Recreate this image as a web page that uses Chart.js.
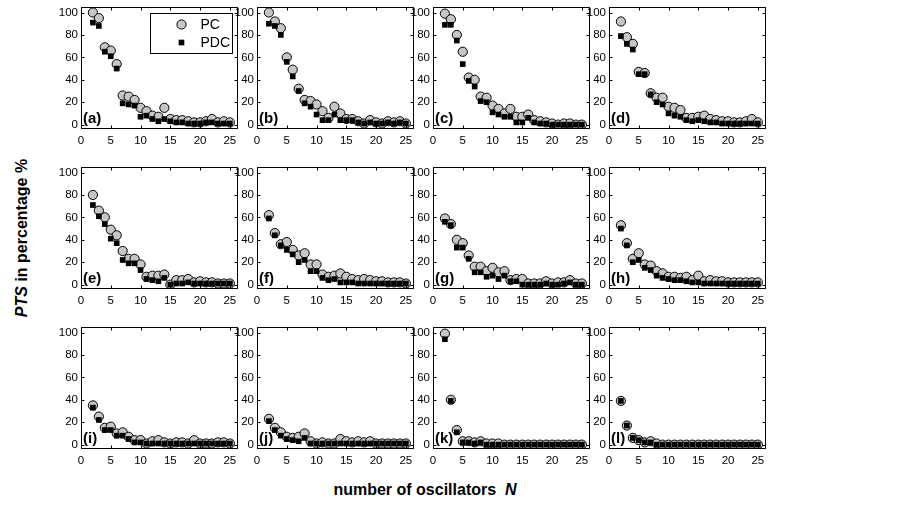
<!DOCTYPE html>
<html>
<head>
<meta charset="utf-8">
<script src="https://cdn.jsdelivr.net/npm/chart.js@4.4.1/dist/chart.umd.min.js"></script>
<style>
  html, body { margin: 0; padding: 0; background: #fff; }
  #fig { position: relative; width: 921px; height: 508px; overflow: hidden;
         font-family: "Liberation Sans", Arial, sans-serif; color: #000; }
  #fig canvas { position: absolute; }
  #ytitle { position: absolute; left: 22px; top: 238px; white-space: nowrap;
            font-weight: bold; font-size: 16px;
            transform: translate(-50%, -50%) rotate(-90deg); }
  #xtitle { position: absolute; left: 425px; top: 490px; white-space: nowrap;
            font-weight: bold; font-size: 16px; transform: translate(-50%, -50%); }
</style>
</head>
<body>
<div id="fig">
  <div id="ytitle"><i>PTS</i> in percentage %</div>
  <div id="xtitle">number of oscillators&nbsp;&nbsp;<i>N</i></div>
</div>
<script>
// number of oscillators on the x axis
const N = [2,3,4,5,6,7,8,9,10,11,12,13,14,15,16,17,18,19,20,21,22,23,24,25];
const xTicks = [0, 5, 10, 15, 20, 25];
const yTicks = [0, 20, 40, 60, 80, 100];
const tags = ['(a)','(b)','(c)','(d)','(e)','(f)','(g)','(h)','(i)','(j)','(k)','(l)'];

// PTS (%) for PC and PDC, one pair of arrays per panel
const pcA  = [100,95,69,66,54,26,25,22,15,12,8,7,15,5,4,4,3,2,2,3,5,2,3,2];
const pdcA = [91,88,65,61,50,19,18,17,7,8,5,3,5,3,2,2,1,1,1,2,2,1,1,1];
const pcB  = [100,92,86,60,49,32,22,21,18,12,6,16,10,5,5,3,1,4,2,1,3,2,3,1];
const pdcB = [90,88,80,56,43,30,19,16,9,4,4,9,4,4,4,2,1,2,1,1,2,1,2,1];
const pcC  = [99,94,80,65,42,40,25,24,17,14,10,14,7,7,9,4,3,2,1,0,1,1,0,0];
const pdcC = [89,89,75,54,39,34,21,20,11,9,7,7,2,2,6,2,1,1,0,0,0,0,0,0];
const pcD  = [92,78,72,47,46,28,24,24,16,15,13,6,6,7,8,5,4,3,3,2,2,3,5,2];
const pdcD = [79,72,67,45,45,27,20,18,10,8,7,4,3,4,3,2,2,1,1,1,1,1,1,1];
const pcE  = [80,66,60,49,44,30,23,23,18,7,8,8,9,0,4,4,5,2,3,2,2,1,1,1];
const pdcE = [71,61,54,41,37,22,19,19,13,5,4,3,6,0,1,1,2,1,1,1,1,1,1,1];
const pcF  = [62,46,36,38,31,26,28,18,18,9,7,8,10,7,5,4,5,4,3,3,2,2,2,1];
const pdcF = [59,44,35,31,27,20,22,12,12,6,4,5,2,2,2,1,1,1,1,1,1,1,1,1];
const pcG  = [59,54,40,37,26,16,16,12,15,11,12,4,5,5,1,1,1,3,1,2,2,4,1,1];
const pdcG = [56,53,33,33,23,11,11,7,8,5,8,3,3,0,0,0,0,1,0,0,1,2,0,0];
const pcH  = [53,37,23,28,18,17,12,10,7,7,6,7,4,8,3,4,3,3,2,2,2,2,2,2];
const pdcH = [50,35,20,22,15,13,8,6,5,4,4,3,2,2,1,1,1,1,1,1,1,1,1,1];
const pcI  = [35,25,15,16,10,11,7,4,4,1,3,4,2,1,2,2,1,4,1,1,1,2,2,1];
const pdcI = [33,22,13,13,8,8,5,2,2,1,1,1,1,1,1,1,1,1,1,1,1,1,1,1];
const pcJ  = [23,15,11,7,6,7,10,3,1,2,1,1,5,3,2,3,2,3,1,1,1,1,1,1];
const pdcJ = [21,13,8,5,4,3,6,1,1,1,1,1,1,1,1,1,1,1,1,1,1,1,1,1];
const pcK  = [99,40,13,3,3,2,3,1,1,1,0,0,0,0,0,0,0,0,0,0,0,0,0,0];
const pdcK = [94,39,11,2,2,1,2,0,0,0,0,0,0,0,0,0,0,0,0,0,0,0,0,0];
const pcL  = [39,17,6,4,2,3,1,0,0,0,0,0,0,0,0,0,0,0,0,0,0,0,0,0];
const pdcL = [39,17,6,4,2,2,0,0,0,0,0,0,0,0,0,0,0,0,0,0,0,0,0,0];

const pcSets  = [pcA, pcB, pcC, pcD, pcE, pcF, pcG, pcH, pcI, pcJ, pcK, pcL];
const pdcSets = [pdcA, pdcB, pdcC, pdcD, pdcE, pdcF, pdcG, pdcH, pdcI, pdcJ, pdcK, pdcL];

// grid of 3 rows x 4 columns of axes
const COL0 = 81, COLSTEP = 176, ROW0 = 5, ROWSTEP = 160;
const PW = 156, PH = 123;           // plot area size
const YW = 26, XH = 24, PT = 8, PR = 6;
const XMAX = 26.2;
const FONT = '"Liberation Sans", Arial, sans-serif';

// box, inward ticks, panel tag and optional legend
const framePlugin = {
  id: 'frame',
  afterDatasetsDraw(chart, args, opts) {
    const { ctx, chartArea: a, scales: { x, y } } = chart;
    const l = Math.round(a.left) + 0.5, t = Math.round(a.top) + 0.5;
    const r = Math.round(a.right) + 0.5, b = Math.round(a.bottom) + 0.5;
    ctx.save();
    ctx.strokeStyle = '#000';
    ctx.lineWidth = 1;
    ctx.strokeRect(l, t, r - l, b - t);
    const L = 3;
    ctx.beginPath();
    xTicks.forEach(v => {
      const px = Math.round(x.getPixelForValue(v)) + 0.5;
      ctx.moveTo(px, b); ctx.lineTo(px, b - L);
      ctx.moveTo(px, t); ctx.lineTo(px, t + L);
    });
    yTicks.forEach(v => {
      const py = Math.round(y.getPixelForValue(v)) + 0.5;
      ctx.moveTo(l, py); ctx.lineTo(l + L, py);
      ctx.moveTo(r, py); ctx.lineTo(r - L, py);
    });
    ctx.stroke();

    ctx.fillStyle = '#000';
    ctx.font = 'bold 15px ' + FONT;
    ctx.textAlign = 'left';
    ctx.textBaseline = 'alphabetic';
    ctx.fillText(opts.tag, a.left + 2, a.bottom - 5);

    if (opts.legend) {
      const bw = 82, bh = 40;
      const bx = Math.round(a.right - 5 - bw) + 0.5, by = Math.round(a.top + 6) + 0.5;
      ctx.fillStyle = '#fff';
      ctx.fillRect(bx, by, bw, bh);
      ctx.strokeRect(bx, by, bw, bh);
      ctx.font = '14px ' + FONT;
      ctx.textBaseline = 'middle';
      chart.data.datasets.forEach((ds, i) => {
        const cy = by + 11 + i * 18, cx = bx + 31;
        ctx.fillStyle = ds.backgroundColor;
        ctx.strokeStyle = ds.borderColor;
        ctx.lineWidth = ds.borderWidth;
        Chart.helpers.drawPoint(ctx, { pointStyle: ds.pointStyle, radius: ds.pointRadius,
                                       borderWidth: ds.borderWidth }, cx, cy);
        ctx.fillStyle = '#000';
        ctx.fillText(ds.label, bx + 50, cy + 1);
      });
    }
    ctx.restore();
  }
};

const fig = document.getElementById('fig');

tags.forEach((tag, k) => {
  const row = Math.floor(k / 4), col = k % 4;
  const plotLeft = COL0 + col * COLSTEP, plotTop = ROW0 + row * ROWSTEP;
  const cv = document.createElement('canvas');
  const w = YW + PW + PR, h = PT + PH + XH;
  cv.width = w; cv.height = h;
  cv.style.width = w + 'px'; cv.style.height = h + 'px';
  cv.style.left = (plotLeft - YW) + 'px';
  cv.style.top = (plotTop - PT) + 'px';
  fig.appendChild(cv);

  const pc = pcSets[k], pdc = pdcSets[k];
  new Chart(cv, {
    type: 'scatter',
    data: {
      datasets: [
        { label: 'PC', data: N.map((n, i) => ({ x: n, y: pc[i] })),
          pointStyle: 'circle', pointRadius: 4.6, borderWidth: 1,
          backgroundColor: '#c6c6c6', borderColor: '#000', order: 1 },
        { label: 'PDC', data: N.map((n, i) => ({ x: n, y: pdc[i] })),
          pointStyle: 'rect', pointRadius: 4, borderWidth: 0,
          backgroundColor: '#000', borderColor: '#000', order: 0 }
      ]
    },
    options: {
      responsive: false, animation: false, events: [],
      devicePixelRatio: 1,
      layout: { autoPadding: false, padding: { top: PT, right: PR, left: 0, bottom: 0 } },
      plugins: {
        legend: { display: false }, tooltip: { enabled: false },
        frame: { tag: tag, legend: k === 0 }
      },
      scales: {
        x: {
          type: 'linear', min: 0, max: XMAX,
          grid: { display: false, drawTicks: false }, border: { display: false },
          ticks: { color: '#000', font: { family: FONT, size: 11.5 }, padding: 6, maxRotation: 0 },
          afterBuildTicks: s => { s.ticks = xTicks.map(v => ({ value: v })); },
          afterFit: s => { s.height = XH; }
        },
        y: {
          type: 'linear', min: -3, max: 105,
          grid: { display: false, drawTicks: false }, border: { display: false },
          ticks: { color: '#000', font: { family: FONT, size: 11.5 }, padding: 3 },
          afterBuildTicks: s => { s.ticks = yTicks.map(v => ({ value: v })); },
          afterFit: s => { s.width = YW; }
        }
      }
    },
    plugins: [framePlugin]
  });
});
</script>
</body>
</html>
